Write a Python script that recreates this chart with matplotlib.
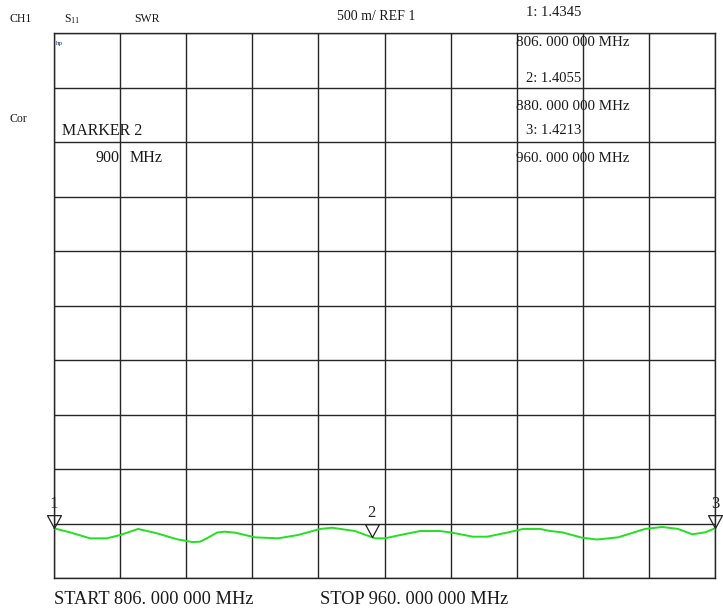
import numpy as np
import matplotlib
matplotlib.use("Agg")
import matplotlib.pyplot as plt
from matplotlib.path import Path

plt.rcParams['font.family'] = ['Liberation Serif', 'DejaVu Serif']
plt.rcParams['mathtext.fontset'] = 'custom'
plt.rcParams['mathtext.rm'] = 'Liberation Serif'
plt.rcParams['mathtext.default'] = 'rm'

# ---- data ----
freq_mhz = [806.0, 809.7, 814.4, 818.3, 821.4, 825.6, 830.0, 834.7, 838.2, 840.0,
            841.6, 844.0, 845.8, 848.2, 852.8, 858.2, 862.8, 868.0, 870.8, 876.1,
            880.8, 883.1, 885.9, 891.3, 895.9, 898.7, 903.6, 906.9, 911.5, 915.3,
            919.2, 921.6, 924.4, 929.0, 932.5, 937.4, 943.7, 947.7, 951.4, 954.7,
            957.7, 960.0]
swr = [1.456, 1.419, 1.364, 1.364, 1.394, 1.450, 1.410, 1.355, 1.330, 1.333,
       1.364, 1.417, 1.425, 1.416, 1.373, 1.364, 1.394, 1.450, 1.461, 1.431,
       1.364, 1.364, 1.388, 1.431, 1.431, 1.416, 1.379, 1.379, 1.416, 1.450,
       1.450, 1.431, 1.419, 1.370, 1.353, 1.373, 1.450, 1.468, 1.450, 1.401,
       1.419, 1.456]
marker_ids = ["1", "2", "3"]
marker_freqs = [806.0, 880.0, 960.0]
marker_vals = ["1.4345", "1.4055", "1.4213"]
marker_freq_labels = ["806. 000 000 MHz", "880. 000 000 MHz", "960. 000 000 MHz"]
start_f, stop_f = 806.0, 960.0
ref_val, per_div = 1.0, 0.5
n_div = 10

W, H = 723, 609
fig = plt.figure(figsize=(W / 100, H / 100), dpi=100)
ax = fig.add_axes([54 / W, 1 - 578 / H, 661 / W, 545 / H])
ax.set_xlim(start_f, stop_f)
ax.set_ylim(ref_val, ref_val + n_div * per_div)
ax.set_xticks(np.linspace(start_f, stop_f, n_div + 1))
ax.set_yticks(np.linspace(ref_val, ref_val + n_div * per_div, n_div + 1))
ax.tick_params(length=0, labelbottom=False, labelleft=False)
ax.grid(True, color='#262626', linewidth=1.0)
for s in ax.spines.values():
    s.set_color('#262626')
    s.set_linewidth(1.0)

ax.plot(freq_mhz, swr, color='#22e022', linewidth=1.4, zorder=3, clip_on=False,
        solid_joinstyle='round', solid_capstyle='round')

# marker triangles (tip at the trace)
tri = Path([(-1.0, 1.85), (1.0, 1.85), (0.0, 0.0), (-1.0, 1.85)],
           [Path.MOVETO, Path.LINETO, Path.LINETO, Path.CLOSEPOLY])
for mid, mf in zip(marker_ids, marker_freqs):
    mv = np.interp(mf, freq_mhz, swr)
    ax.plot([mf], [mv], marker=tri, markersize=18.5, markerfacecolor='none',
            markeredgecolor='#222222', markeredgewidth=0.9, zorder=4, clip_on=False)
    ax.annotate(mid, (mf, mv), xytext=(0, 17.5), textcoords='offset points',
                ha='center', va='center', fontsize=12, color='#222222',
                annotation_clip=False)

def ftext(x, y, s, color='#1a1a1a', **kw):
    fig.text(x / W, 1 - y / H, s, va='center', color=color, **kw)

ftext(10, 19, "CH1", fontsize=8.5)
ftext(64, 19, r"S$_{11}$", fontsize=8.5)
ftext(134, 19, "SWR", fontsize=8.5)
ftext(337, 17, "500 m/ REF 1", fontsize=10)
ftext(10, 119, "Cor", fontsize=8.5)
ftext(56, 44, "hp", fontsize=5, color='#203070')

read_y = [(13, 42), (78, 106), (130, 158)]
for (vy, fy), mid, mv, fl in zip(read_y, marker_ids, marker_vals, marker_freq_labels):
    ftext(526, vy, f"{mid}: {mv}", fontsize=10.5)
    ftext(516, fy, fl, fontsize=10.8)

ftext(62, 131, "MARKER 2", fontsize=11.5)
ftext(120, 158, "900", fontsize=11.5, ha='right')
ftext(130, 158, "MHz", fontsize=11.5)

ftext(54, 600, "START 806. 000 000 MHz", fontsize=13.2)
ftext(320, 600, "STOP 960. 000 000 MHz", fontsize=13.2)

fig.savefig("out.png", dpi=100)
